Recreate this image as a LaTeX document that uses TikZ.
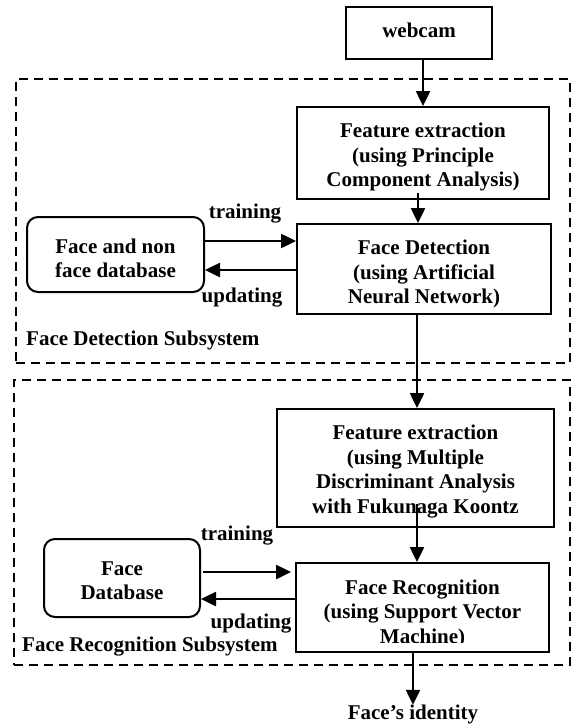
\documentclass[tikz,border=0pt]{standalone}
\usepackage{fontspec}
\setmainfont{Liberation Serif}
\usetikzlibrary{arrows.meta}
\begin{document}
\begin{tikzpicture}[x=1pt,y=-1pt,
  every node/.style={font=\fontsize{21}{24.5}\selectfont\bfseries},
  box/.style={draw,line width=2pt,rectangle,inner sep=0pt},
  dbbox/.style={box,rounded corners=11pt},
  txt/.style={inner sep=0pt,align=center},
  lbl/.style={inner sep=0pt,anchor=base},
  arr/.style={line width=2.5pt,-{Triangle[length=15pt,width=14pt]}},
  subsys/.style={draw,line width=2pt,dash pattern=on 9pt off 6pt,inner sep=0pt}]
\useasboundingbox (0,0) rectangle (572,725);

% subsystems
\node[subsys,minimum width=554pt,minimum height=284pt] (det) at (293,221) {};
\node[subsys,minimum width=556pt,minimum height=285pt] (rec) at (292,522.5) {};

% boxes
\node[box,minimum width=146pt,minimum height=52pt] (webcam) at (419,33) {};
\node[box,minimum width=252pt,minimum height=92pt] (fe1) at (423,153) {};
\node[box,minimum width=254pt,minimum height=90pt] (fd) at (424,269) {};
\node[dbbox,minimum width=177pt,minimum height=75pt] (db1) at (115.5,254.5) {};
\node[box,minimum width=277pt,minimum height=118pt] (fe2) at (415.5,468) {};
\node[box,minimum width=253pt,minimum height=89pt] (fr) at (422.5,607.5) {};
\node[dbbox,minimum width=156pt,minimum height=78pt] (db2) at (122,578) {};

% texts
\node[txt,yshift=3pt] (webcamt) at (webcam) {webcam};
\node[txt,yshift=-4pt] (fe1t) at (fe1) {Feature extraction\\(using Principle\\Component Analysis)};
\node[txt,yshift=-5pt] (fdt) at (fd) {Face Detection\\(using Artificial\\Neural Network)};
\node[txt,yshift=-4pt] (db1t) at (db1) {Face and non\\face database};
\node[txt,yshift=-3.5pt] (fe2t) at (fe2) {Feature extraction\\(using Multiple\\Discriminant Analysis\\with Fukunaga Koontz};
\begin{scope}
  \clip (fr.north west) rectangle ([yshift=11pt]fr.south east);
  \node[txt,yshift=-6pt] (frt) at (fr) {Face Recognition\\(using Support Vector\\Machine)};
\end{scope}
\node[txt,yshift=-2.5pt] (db2t) at (db2) {Face\\Database};
\node[txt] (identity) at (413,714.5) {Face’s identity};

% labels
\node[lbl] (tr1) at (245,218.5) {training};
\node[lbl] (up1) at (242,302) {updating};
\node[lbl,anchor=base west] (detl) at (26,345) {Face Detection Subsystem};
\node[lbl] (tr2) at (237,540) {training};
\node[lbl] (up2) at (251,628) {updating};
\node[lbl,anchor=base west] (recl) at (22,651) {Face Recognition Subsystem};

% connectors
\coordinate (t1) at (0,241);
\coordinate (u1) at (0,270);
\coordinate (t2) at (0,572);
\coordinate (u2) at (0,599);
\draw[arr] ([xshift=4pt]webcam.south) -- ([xshift=4pt]webcam.south |- fe1.north);
\draw[arr] ([xshift=-5pt,yshift=7pt]fe1.south) -- ([xshift=-5pt]fe1.south |- fd.north);
\draw[arr] ([xshift=-7pt]fd.south) -- ([xshift=-7pt]fd.south |- fe2.north);
\draw[arr] ([xshift=1.5pt,yshift=24pt]fe2.south) -- ([xshift=1.5pt]fe2.south |- fr.north);
\draw[arr] ([xshift=-9.5pt]fr.south) -- (identity.north);
\draw[arr] (db1.east |- t1) -- (fd.west |- t1);
\draw[arr] (fd.west |- u1) -- (db1.east |- u1);
\draw[arr] ([xshift=2pt]db2.east |- t2) -- ([xshift=-4pt]fr.west |- t2);
\draw[arr] (fr.west |- u2) -- (db2.east |- u2);
\end{tikzpicture}
\end{document}
